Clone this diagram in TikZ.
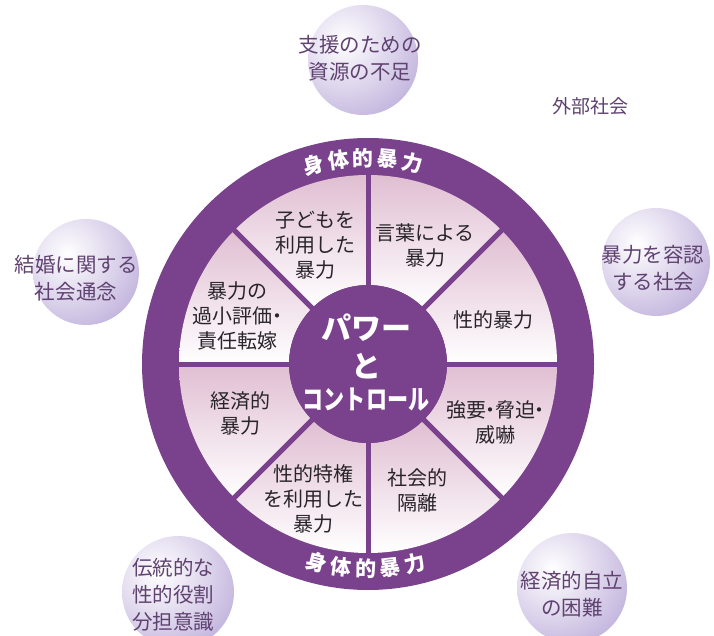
\documentclass[tikz,border=0pt]{standalone}
\usepackage{fontspec}
\setmainfont{Noto Sans CJK JP}
\usetikzlibrary{calc}
\definecolor{wheel}{RGB}{122,66,140}
\definecolor{pinkc}{RGB}{224,190,210}
\definecolor{lav}{RGB}{196,182,222}
\definecolor{bubtext}{RGB}{96,66,112}
\definecolor{sectext}{RGB}{40,36,42}
\tikzset{
  sectxt/.style={align=center, text=sectext, inner sep=0pt, font=\fontsize{20}{25}\selectfont},
  bubtxt/.style={align=center, text=bubtext, inner sep=0pt, font=\fontsize{20.5}{27}\selectfont},
  ringch/.style={text=white, inner sep=0pt, font=\bfseries\fontsize{21}{21}\selectfont},
  hubtxt/.style={text=white, inner sep=0pt, font=\bfseries},
  spoke/.style={draw=wheel, line width=5pt},
}
\newcommand{\bubble}[3]{%
  \begin{scope}
    \clip (#1,#2) circle (#3);
    \shade[inner color=white, outer color=lav] ($(#1,#2)+(-0.35*#3,0.35*#3)$) circle ({1.5*#3});
  \end{scope}}
\newcommand{\nd}{\kern-0.28em・\kern-0.28em}
\begin{document}
\begin{tikzpicture}[x=1pt,y=1pt]
\useasboundingbox (0,0) rectangle (714,-636);
\fill[white] (0,0) rectangle (714,-636);
% outer bubbles
\bubble{363}{-60}{55}
\bubble{86}{-272}{53}
\bubble{656}{-262}{54}
\bubble{178}{-592}{56}
\bubble{572}{-588}{55}
\node[bubtxt] (b1) at (360,-58) {支援のための\\資源の不足};
\node[bubtxt] (b2) at (76,-278) {結婚に関する\\社会通念};
\node[bubtxt] (b3) at (653,-268) {暴力を容認\\する社会};
\node[bubtxt] (b4) at (173,-595) {伝統的な\\性的役割\\分担意識};
\node[bubtxt] (b5) at (572,-594) {経済的自立\\の困難};
\node[bubtxt, font=\fontsize{19}{24}\selectfont] (ext) at (590,-106) {外部社会};
% wheel
\coordinate (C) at (368,-364);
\fill[wheel] (C) circle (226);
\foreach \a in {0,45,...,315}{
  \shade[top color=pinkc, bottom color=white]
    ($(C)+(\a:79)$) arc[start angle=\a, end angle=\a+45, radius=79]
    -- ($(C)+(\a+45:189)$) arc[start angle=\a+45, end angle=\a, radius=189] -- cycle;
}
\foreach \a in {0,45,...,315}{
  \draw[spoke] ($(C)+(\a:75)$) -- ($(C)+(\a:192)$);
}
\fill[wheel] (C) circle (79);
% ring labels
\foreach \ch [count=\i] in {身,体,的,暴,力}{
  \pgfmathsetmacro{\ang}{91.4-(\i-3)*6.9}
  \node[ringch, rotate=\ang-90] (t\i) at ($(C)+(\ang:206)$) {\ch};
  \pgfmathsetmacro{\angb}{269.4+(\i-3)*6.9}
  \node[ringch, rotate=\angb-270] (u\i) at ($(C)+(\angb:205)$) {\ch};
}
% hub
\node[hubtxt, font=\bfseries\fontsize{30}{30}\selectfont] (h1) at (366,-328) {パワー};
\node[hubtxt, font=\bfseries\fontsize{30}{30}\selectfont] (h2) at (366,-366) {と};
\node[hubtxt, font=\bfseries\fontsize{27}{27}\selectfont, xscale=0.78] (h3) at (366,-399) {コントロール};
% sectors
\node[sectxt] (s1) at (315,-245) {子どもを\\利用した\\暴力};
\node[sectxt] (s2) at (425,-245.5) {言葉による\\暴力};
\node[sectxt] (s3) at (493,-320) {性的暴力};
\node[sectxt] (s4) at (237,-316) {暴力の\\過小評価\nd\\責任転嫁};
\node[sectxt] (s5) at (240,-413) {経済的\\暴力};
\node[sectxt] (s6) at (495,-422) {強要\nd 脅迫\nd\\威嚇};
\node[sectxt] (s7) at (313,-499) {性的特権\\を利用した\\暴力};
\node[sectxt] (s8) at (417,-490) {社会的\\隔離};
\end{tikzpicture}
\end{document}
